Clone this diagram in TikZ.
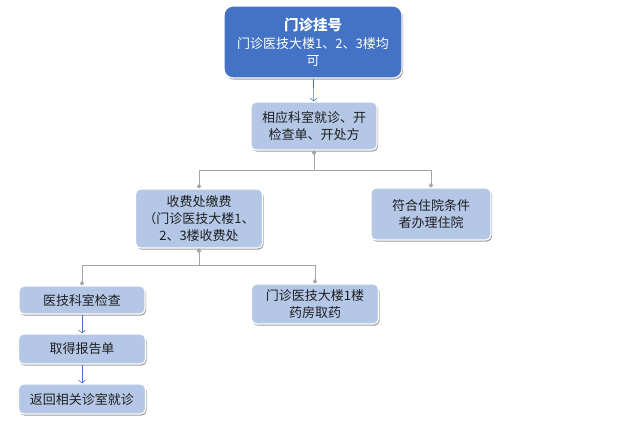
\documentclass[tikz,border=0pt]{standalone}
\usepackage{fontspec}
\setmainfont{Noto Sans CJK SC}
\usetikzlibrary{shadows,arrows.meta}
\definecolor{headblue}{HTML}{4472C4}
\definecolor{boxblue}{HTML}{B4C7E7}
\definecolor{linkgray}{HTML}{A5A5A5}
\definecolor{textgray}{HTML}{1F1F1F}
\tikzset{
  box/.style={rectangle, rounded corners=5pt, draw=white, line width=1.2pt,
    fill=boxblue, text=textgray, align=center, inner sep=2pt,
    font=\fontsize{13}{17}\selectfont,
    drop shadow={shadow xshift=1pt, shadow yshift=-1.6pt, opacity=0.4, fill=black}},
  headbox/.style={box, fill=headblue, text=white, rounded corners=9pt},
  link/.style={draw=linkgray, line width=0.9pt, {Circle[length=4pt]}-{Circle[length=4pt]}},
  flow/.style={draw=headblue, line width=0.6pt, -{Straight Barb[length=3pt,width=7pt]}}
}
\begin{document}
\begin{tikzpicture}[x=1pt,y=-1pt]
      \useasboundingbox (0,0) rectangle (625,431);
      \draw
        (313,42) node[headbox, minimum width=178pt, minimum height=72pt] (reg)
          {{\bfseries\fontsize{14.5}{17}\selectfont 门诊挂号}\\[1pt]门诊医技大楼1、2、3楼均\\可}
        (314,126) node[box, minimum width=126pt, minimum height=48pt] (care)
          {相应科室就诊、开\\检查单、开处方}
        (199,218.5) node[box, minimum width=127pt, minimum height=59pt] (pay)
          {收费处缴费\\（门诊医技大楼1、\\2、3楼收费处}
        (431,214) node[box, minimum width=120pt, minimum height=52pt] (ward)
          {符合住院条件\\者办理住院}
        (82,300) node[box, minimum width=126pt, minimum height=28pt] (exam)
          {医技科室检查}
        (315,304) node[box, minimum width=127pt, minimum height=40pt] (drug)
          {门诊医技大楼1楼\\药房取药}
        (82,349) node[box, minimum width=127pt, minimum height=30pt] (report)
          {取得报告单}
        (82,399) node[box, minimum width=127pt, minimum height=30pt] (back)
          {返回相关诊室就诊};
      \path (care.south) ++(0,20) coordinate (j1);
      \path (pay.south) ++(0,17) coordinate (j2);
      \begin{scope}[link]
        \draw (care.south) -- (j1) -| (pay.north);
        \draw (care.south) -- (j1) -| (ward.north);
        \draw (pay.south) -- (j2) -| (exam.north);
        \draw (pay.south) -- (j2) -| (drug.north);
      \end{scope}
      \begin{scope}[flow]
        \draw (reg) -- (care);
        \draw (exam) -- (report);
        \draw (report) -- (back);
      \end{scope}
    \end{tikzpicture}
\end{document}
